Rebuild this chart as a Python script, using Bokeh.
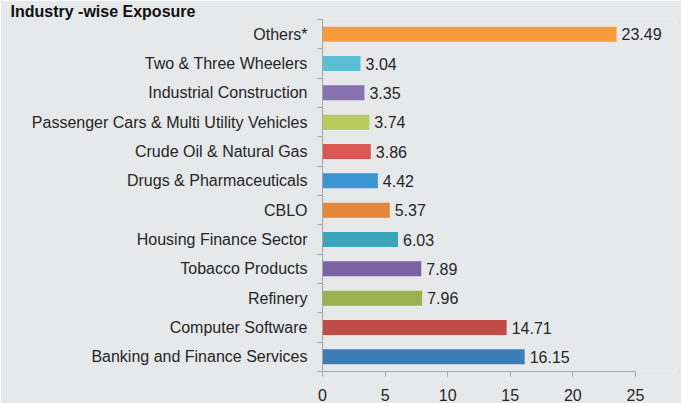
from bokeh.plotting import figure
from bokeh.models import ColumnDataSource, FixedTicker, Range1d
from bokeh.core.properties import value
from bokeh.embed import file_html
from bokeh.resources import INLINE

title_text = "Industry -wise Exposure"

# top to bottom, as shown
categories = [
    "Others*",
    "Two & Three Wheelers",
    "Industrial Construction",
    "Passenger Cars & Multi Utility Vehicles",
    "Crude Oil & Natural Gas",
    "Drugs & Pharmaceuticals",
    "CBLO",
    "Housing Finance Sector",
    "Tobacco Products",
    "Refinery",
    "Computer Software",
    "Banking and Finance Services",
]
values = [23.49, 3.04, 3.35, 3.74, 3.86, 4.42, 5.37, 6.03, 7.89, 7.96, 14.71, 16.15]
colors = [
    "#F79B3B", "#5BC0D4", "#8872B0", "#BACB5D", "#DA5752", "#3A95D0",
    "#E4873A", "#3AA6B9", "#7A62A3", "#9BB050", "#C04B47", "#3A7EB5",
]
x_ticks = [0, 5, 10, 15, 20, 25]

n = len(categories)
ypos = [n - 1 - i for i in range(n)]
labels = [f"{v:.2f}" for v in values]

src = ColumnDataSource(dict(y=ypos, v=values, c=colors, lab=labels))

BG = "#E7E8E9"
TXT = "#262626"
FONT = "Liberation Sans"

p = figure(width=681, height=403, sizing_mode="stretch_both",
           output_backend="svg", toolbar_location=None,
           x_range=Range1d(0, 28.2), y_range=Range1d(-0.5, n - 0.5),
           min_border_left=322, min_border_right=6, min_border_top=18, min_border_bottom=32,
           background_fill_color=BG, border_fill_color=BG, outline_line_color=None)

p.title.text = title_text
p.title.align = "left"
p.title.offset = -312
p.title.standoff = 0
p.title.text_font = FONT
p.title.text_font_style = "bold"
p.title.text_font_size = "16px"
p.title.text_line_height = 1.0
p.title.text_color = "#111111"

p.hbar(y="y", right="v", left=0, height=0.51, color="c", line_color=None, source=src)
p.text(x="v", y="y", text="lab", source=src, x_offset=5, text_baseline="middle",
       text_align="left", text_font_size="16px", text_color=TXT, text_font=value(FONT))

p.xgrid.visible = False
p.ygrid.visible = False

xa = p.xaxis[0]
xa.ticker = FixedTicker(ticks=x_ticks)
xa.bounds = (0, 25)
xa.axis_line_color = "#A6A6A6"
xa.major_tick_line_color = "#A6A6A6"
xa.major_tick_out = 5
xa.major_tick_in = 0
xa.minor_tick_line_color = None
xa.major_label_text_font_size = "16px"
xa.major_label_text_line_height = 0.8
xa.major_label_text_color = TXT
xa.major_label_text_font = FONT
xa.major_label_standoff = 12

ya = p.yaxis[0]
ya.ticker = FixedTicker(ticks=ypos, minor_ticks=[i - 0.5 for i in range(n + 1)])
ya.major_label_overrides = {y: c for y, c in zip(ypos, categories)}
ya.axis_line_color = "#A6A6A6"
ya.major_tick_line_color = None
ya.major_tick_out = 0
ya.major_tick_in = 0
ya.minor_tick_line_color = "#A6A6A6"
ya.minor_tick_out = 5
ya.minor_tick_in = 0
ya.major_label_text_font_size = "16px"
ya.major_label_text_color = TXT
ya.major_label_text_font = FONT
ya.major_label_standoff = 10

open("out.html", "w").write(file_html(p, INLINE))
